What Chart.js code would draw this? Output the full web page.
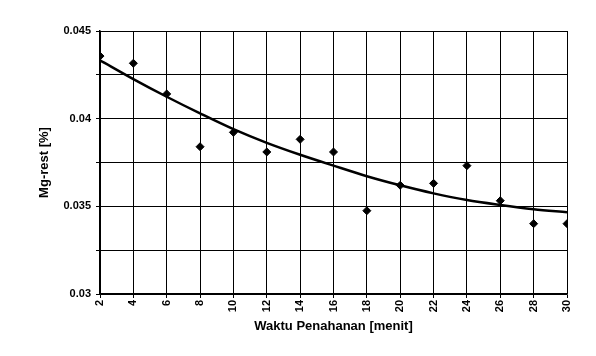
<!DOCTYPE html>
<html>
<head>
<meta charset="utf-8">
<script src="https://cdn.jsdelivr.net/npm/chart.js@4/dist/chart.umd.min.js"></script>
<style>
html,body{margin:0;padding:0;background:#fff;}
#wrap{width:596px;height:356px;position:relative;}
</style>
</head>
<body>
<div id="wrap"><canvas id="c" width="596" height="356"></canvas></div>
<script>
const waktu = [2,4,6,8,10,12,14,16,18,20,22,24,26,28,30];
const mgRest = [0.04357,0.04316,0.04141,0.0384,0.03922,0.0381,0.03882,0.0381,0.03475,0.0362,0.03631,0.03732,0.03532,0.03401,0.03401];
const trendMg = [0.04333,0.04226,0.04125,0.0403,0.0394,0.03862,0.03794,0.03732,0.03672,0.0362,0.03574,0.03536,0.03508,0.03484,0.03466];
const yLabels = ['0.03','0.035','0.04','0.045'];
const xTitle = 'Waktu Penahanan [menit]';
const yTitle = 'Mg-rest [%]';

const tickFont = {family:'"Liberation Sans", Arial, sans-serif', size:11, weight:'bold'};
const titleFont = {family:'"Liberation Sans", Arial, sans-serif', size:13, weight:'bold'};

new Chart(document.getElementById('c'), {
  type:'scatter',
  data:{
    datasets:[
      {
        type:'line',
        data: waktu.map((x,i)=>({x:x,y:trendMg[i]})),
        borderColor:'#000',
        borderWidth:2.5,
        pointRadius:0,
        cubicInterpolationMode:'monotone',
        fill:false,
        order:2
      },
      {
        data: waktu.map((x,i)=>({x:x,y:mgRest[i]})),
        pointStyle:'rectRot',
        pointRadius:4,
        backgroundColor:'#000',
        borderColor:'#000',
        borderWidth:1,
        order:1
      }
    ]
  },
  options:{
    responsive:false,
    animation:false,
    layout:{padding:{left:33,right:29,top:31,bottom:18}},
    plugins:{legend:{display:false},tooltip:{enabled:false}},
    scales:{
      x:{
        type:'linear',
        min:2,max:30,
        afterFit:(s)=>{s.height=44;},
        ticks:{stepSize:2,minRotation:90,maxRotation:90,autoSkip:false,color:'#000',font:tickFont,padding:2},
        grid:{color:'#000',lineWidth:1,tickLength:4,tickColor:'#000'},
        border:{color:'#000',width:1.5},
        title:{display:true,text:xTitle,color:'#000',font:titleFont,padding:{top:4,bottom:4}}
      },
      y:{
        min:0.03,max:0.045,
        afterFit:(s)=>{s.width=67;},
        ticks:{stepSize:0.0025,color:'#000',font:tickFont,padding:5,
          callback:(v)=>{const r=Math.round(v*10000); if(r%50===0){return yLabels[(r-300)/50];} return '';}},
        grid:{color:'#000',lineWidth:1,tickLength:4,tickColor:'#000'},
        border:{color:'#000',width:1.5},
        title:{display:true,text:yTitle,color:'#000',font:titleFont,padding:{top:4,bottom:4}}
      }
    }
  }
});
</script>
</body>
</html>
